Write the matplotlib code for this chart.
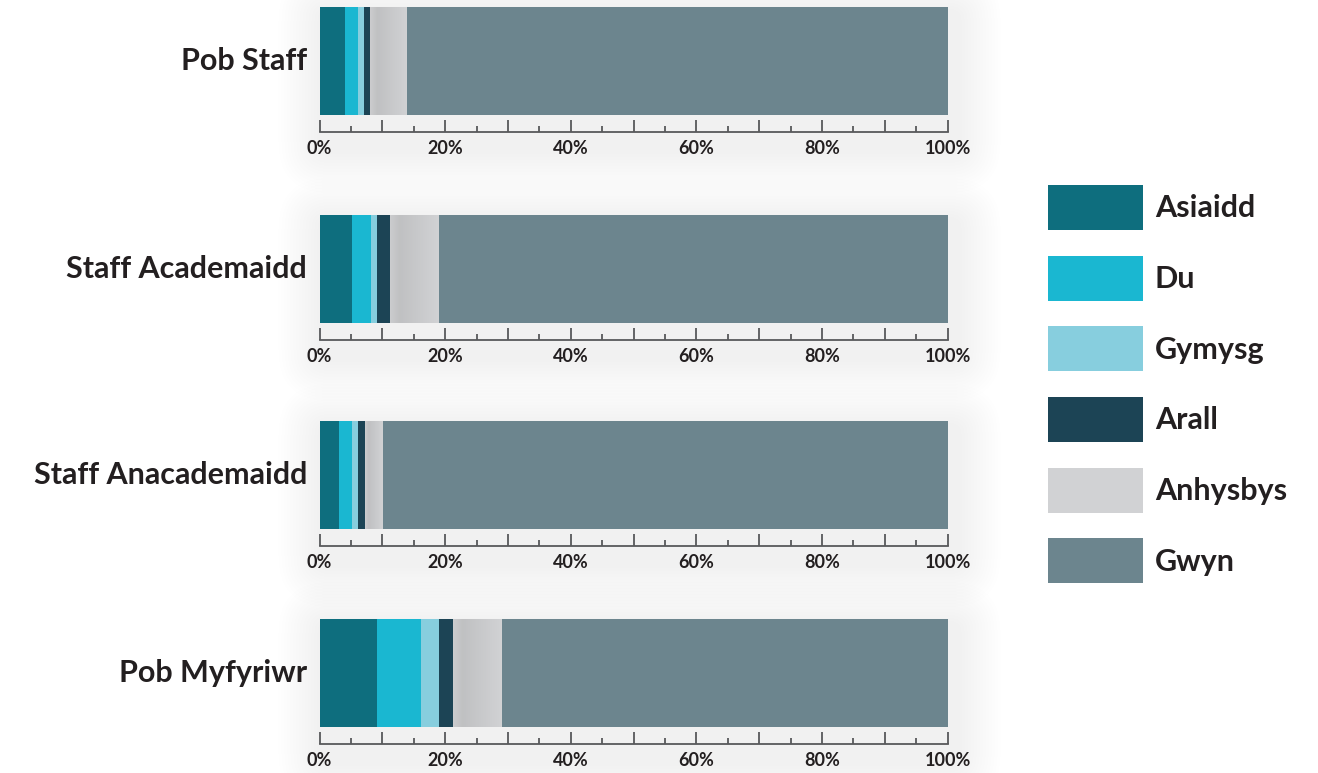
import numpy as np
import matplotlib.pyplot as plt
from matplotlib.patches import FancyBboxPatch, Patch

groups = ['Pob Staff', 'Staff Academaidd', 'Staff Anacademaidd', 'Pob Myfyriwr']
series = ['Asiaidd', 'Du', 'Gymysg', 'Arall', 'Anhysbys', 'Gwyn']
asiaidd = [4.0, 5.1, 3.1, 9.1]
du = [2.1, 3.1, 2.1, 7.0]
gymysg = [1.0, 0.95, 0.95, 3.0]
arall = [0.9, 2.0, 1.1, 2.1]
anhysbys = [5.9, 7.8, 2.85, 7.8]
gwyn = [86.1, 81.05, 89.9, 71.0]
tick_vals = [0, 20, 40, 60, 80, 100]
tick_labels = ['0%', '20%', '40%', '60%', '80%', '100%']

colors = ['#0e6e7e', '#1ab7d1', '#87cede', '#1c4455', '#d1d2d4', '#6c858e']
txt = '#231f20'
axcol = '#58595b'
fam = ['Lato', 'DejaVu Sans']

W, H = 1318, 773
fig = plt.figure(figsize=(W / 100, H / 100), dpi=100)
plt.rcParams['font.family'] = fam

data = np.array([asiaidd, du, gymysg, arall, anhysbys, gwyn])
x0, x1 = 319.5, 947.6
tops = [7, 215, 421, 619]
ph = 125

for i, g in enumerate(groups):
    top = tops[i]
    bot = top + ph
    # soft glow behind each panel
    for k in range(14):
        pad = 2 + 3 * k
        fig.patches.append(FancyBboxPatch(
            (x0 - pad, H - bot - 20 - pad), (x1 - x0) + 12 + 2 * pad, ph + 16 + 2 * pad,
            boxstyle='round,pad=0,rounding_size=%d' % (10 + pad),
            transform=None, facecolor='#808285', edgecolor='none', alpha=0.005, zorder=0))

    ax = fig.add_axes([x0 / W, 1 - bot / H, (x1 - x0) / W, ph / H])
    ax.set_zorder(2)
    ax.patch.set_visible(False)
    left = 0
    for j, s in enumerate(series):
        bars = ax.barh(0.568, data[j, i], left=left, height=0.864, color=colors[j],
                       edgecolor='none', zorder=2)
        if s == 'Anhysbys':
            r = bars.patches[0]
            grad = np.zeros((1, 60, 4))
            grad[..., :3] = 0.45
            grad[0, :, 3] = np.concatenate([np.linspace(0.06, 0.18, 12), np.linspace(0.18, 0.0, 48)])
            ax.imshow(grad, extent=(r.get_x(), r.get_x() + r.get_width(), r.get_y(), r.get_y() + r.get_height()),
                      aspect='auto', zorder=3, interpolation='bilinear')
        left += data[j, i]
    ax.set_xlim(0, 100)
    ax.set_ylim(0, 1)
    for sp in ['top', 'right', 'left']:
        ax.spines[sp].set_visible(False)
    ax.spines['bottom'].set_color(axcol)
    ax.spines['bottom'].set_linewidth(1.3)
    ax.set_yticks([])
    ax.set_xticks(range(0, 101, 10))
    ax.set_xticklabels([tick_labels[tick_vals.index(v)] if v in tick_vals else '' for v in range(0, 101, 10)])
    ax.set_xticks(range(5, 100, 10), minor=True)
    ax.tick_params(axis='x', which='major', direction='in', length=9, width=1.3, color=axcol,
                   pad=6, labelsize=13, labelcolor=txt)
    ax.tick_params(axis='x', which='minor', direction='in', length=4.5, width=1.3, color=axcol)
    for lb in ax.get_xticklabels():
        lb.set_fontweight('bold')
    ax.text(-0.02, 0.568, g, transform=ax.transAxes, ha='right', va='center',
            fontsize=22, fontweight='bold', color=txt)

handles = [Patch(facecolor=c, edgecolor='none', label=s) for c, s in zip(colors, series)]
fig.legend(handles=handles, loc='upper left', bbox_to_anchor=(1048 / W, 1 - 185 / H),
           frameon=False, borderpad=0, borderaxespad=0, handlelength=3.1, handleheight=1.89,
           labelspacing=0.84, handletextpad=0.4, labelcolor=txt,
           prop=dict(family=fam, weight='bold', size=22))

fig.savefig('out.png', dpi=100)
